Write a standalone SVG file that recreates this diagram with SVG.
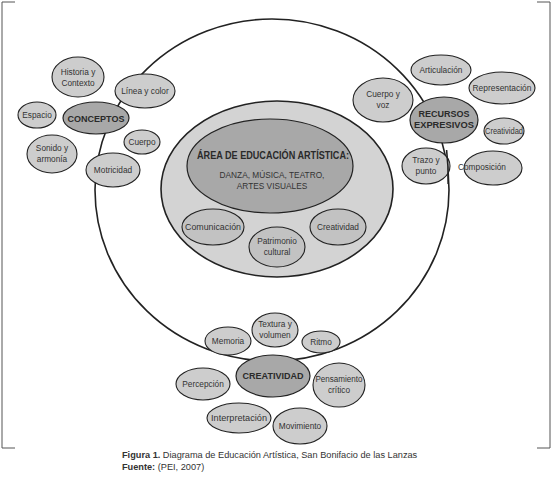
<svg xmlns="http://www.w3.org/2000/svg" width="552" height="489" viewBox="0 0 552 489">
<style>
text{font-family:"Liberation Sans",Arial,sans-serif;fill:#333;text-anchor:middle;}
.n{fill:#cdcdcd;stroke:#222;stroke-width:1.1;}
.d{fill:#a8a8a8;stroke:#222;stroke-width:1.2;}
.m{fill:#d3d3d3;stroke:#222;stroke-width:1.6;}
.i{fill:#c2c2c2;stroke:#222;stroke-width:1.1;}
.t{font-size:8.3px;}
.b{font-size:9px;font-weight:bold;fill:#2a2a2a;}
.frame{fill:none;stroke:#555;stroke-width:1;}
.cap{font-size:9.2px;text-anchor:start;fill:#333;}
</style>
<rect width="552" height="489" fill="#fff"/>
<g id="frame">
<polyline class="frame" points="15,2 2,2 2,448 15,448"/>
<polyline class="frame" points="537,2 550,2 550,448 537,448"/>
</g>
<g id="connectors">
<ellipse cx="272" cy="190" rx="177" ry="171" fill="none" stroke="#222" stroke-width="1.6"/>
</g>
<g id="area">
<ellipse class="m" cx="277" cy="189" rx="116" ry="88"/>
<ellipse class="d" cx="270" cy="166" rx="83" ry="47"/>
<text class="b" x="273" y="159" style="font-size:10px" textLength="152" lengthAdjust="spacingAndGlyphs">ÁREA DE EDUCACIÓN ARTÍSTICA:</text>
<text class="t" x="272" y="178">DANZA, MÚSICA, TEATRO,</text>
<text class="t" x="272" y="189">ARTES VISUALES</text>
</g>
<g id="comunicacion"><ellipse class="i" cx="213" cy="227" rx="31" ry="18"/><text class="t" x="213" y="230" textLength="56" lengthAdjust="spacingAndGlyphs">Comunicación</text></g>
<g id="patrimonio"><ellipse class="i" cx="277" cy="247" rx="28" ry="20"/><text class="t" x="277" y="244">Patrimonio</text><text class="t" x="277" y="255">cultural</text></g>
<g id="creatividad-area"><ellipse class="i" cx="338" cy="227" rx="28" ry="18"/><text class="t" x="338" y="230">Creatividad</text></g>

<g id="historia"><ellipse class="n" cx="78" cy="77" rx="26" ry="20"/><text class="t" x="78" y="75">Historia y</text><text class="t" x="78" y="86">Contexto</text></g>
<g id="linea"><ellipse class="n" cx="145" cy="91" rx="30" ry="17"/><text class="t" x="145" y="94">Línea y color</text></g>
<g id="espacio"><ellipse class="n" cx="37" cy="115" rx="19" ry="13"/><text class="t" x="37" y="118">Espacio</text></g>
<g id="conceptos"><ellipse class="d" cx="96" cy="118" rx="33" ry="16"/><text class="b" x="96" y="122">CONCEPTOS</text></g>
<g id="sonido"><ellipse class="n" cx="52" cy="154" rx="25" ry="19"/><text class="t" x="52" y="151">Sonido y</text><text class="t" x="52" y="162">armonía</text></g>
<g id="cuerpo"><ellipse class="n" cx="142" cy="142" rx="18" ry="12"/><text class="t" x="142" y="145">Cuerpo</text></g>
<g id="motricidad"><ellipse class="n" cx="113" cy="170" rx="27" ry="17"/><text class="t" x="113" y="173">Motricidad</text></g>

<g id="articulacion"><ellipse class="n" cx="441" cy="70" rx="30" ry="15"/><text class="t" x="441" y="73">Articulación</text></g>
<g id="representacion"><ellipse class="n" cx="502" cy="88" rx="33" ry="16"/><text class="t" x="502" y="91" textLength="59" lengthAdjust="spacingAndGlyphs">Representación</text></g>
<g id="cuerpo-voz"><ellipse class="n" cx="383" cy="100" rx="30" ry="22"/><text class="t" x="383" y="97">Cuerpo y</text><text class="t" x="383" y="108">voz</text></g>
<g id="recursos"><ellipse class="d" cx="444" cy="120" rx="34" ry="23"/><text class="b" x="444" y="117">RECURSOS</text><text class="b" x="444" y="128" textLength="60" lengthAdjust="spacingAndGlyphs">EXPRESIVOS</text></g>
<g id="creatividad-rec"><ellipse class="n" cx="504" cy="131" rx="20" ry="13"/><text class="t" x="504" y="134" textLength="38" lengthAdjust="spacingAndGlyphs">Creatividad</text></g>
<g id="trazo"><ellipse class="n" cx="426" cy="166" rx="24" ry="18"/><text class="t" x="426" y="163">Trazo y</text><text class="t" x="426" y="174">punto</text></g>
<path d="M446.6,150 Q448.5,166 448.2,184" fill="none" stroke="#222" stroke-width="1.6"/>
<g id="composicion"><ellipse class="n" cx="493" cy="168" rx="29" ry="17"/><text class="t" x="482" y="170">Composición</text></g>

<g id="memoria"><ellipse class="n" cx="228" cy="341" rx="23" ry="14"/><text class="t" x="228" y="344">Memoria</text></g>
<g id="textura"><ellipse class="n" cx="275" cy="330" rx="23" ry="17"/><text class="t" x="275" y="327">Textura y</text><text class="t" x="275" y="338">volumen</text></g>
<g id="ritmo"><ellipse class="n" cx="321" cy="342" rx="19" ry="11"/><text class="t" x="321" y="345">Ritmo</text></g>
<g id="creatividad"><ellipse class="d" cx="273" cy="376" rx="37" ry="21"/><text class="b" x="273" y="379">CREATIVIDAD</text></g>
<g id="percepcion"><ellipse class="n" cx="203" cy="384" rx="27" ry="16"/><text class="t" x="203" y="387">Percepción</text></g>
<g id="pensamiento"><ellipse class="n" cx="339" cy="385" rx="26" ry="22"/><text class="t" x="339" y="382" textLength="47" lengthAdjust="spacingAndGlyphs">Pensamiento</text><text class="t" x="339" y="393">crítico</text></g>
<g id="interpretacion"><ellipse class="n" cx="239" cy="418" rx="32" ry="15"/><text class="t" x="239" y="421" textLength="56" lengthAdjust="spacingAndGlyphs">Interpretación</text></g>
<g id="movimiento"><ellipse class="n" cx="300" cy="426" rx="27" ry="18"/><text class="t" x="300" y="429">Movimiento</text></g>

<g id="caption">
<text class="cap" x="122" y="458"><tspan font-weight="bold">Figura 1.</tspan> Diagrama de Educación Artística, San Bonifacio de las Lanzas</text>
<text class="cap" x="122" y="470"><tspan font-weight="bold">Fuente:</tspan>  (PEI, 2007)</text>
</g>
</svg>
